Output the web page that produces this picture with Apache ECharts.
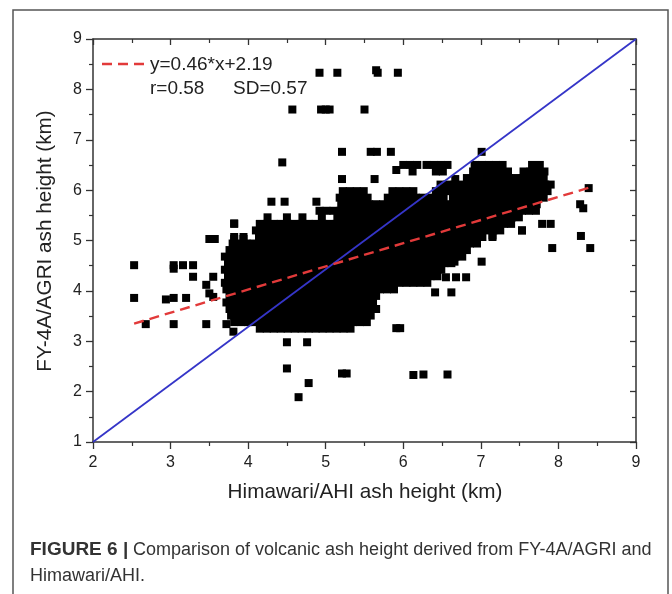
<!DOCTYPE html>
<html>
<head>
<meta charset="utf-8">
<script src="https://cdn.jsdelivr.net/npm/echarts@6/dist/echarts.min.js"></script>
<style>
html,body{margin:0;padding:0;background:#fff;}
#c{width:672px;height:594px;}
</style>
</head>
<body>
<div id="c"></div>
<script>
// ---------- data ----------
const xTicks = [2, 3, 4, 5, 6, 7, 8, 9];
const yTicks = [1, 2, 3, 4, 5, 6, 7, 8, 9];
const fitLine = [[2.53, 3.35], [8.40, 6.05]];      // y=0.46*x+2.19
const diagLine = [[2, 1], [9, 9]];
const fitLabel = 'y=0.46*x+2.19';
const statLabelR = 'r=0.58';
const statLabelSD = 'SD=0.57';

// dense part of the cloud, row by row (y value of row, x values in it)
const rowY = [6.50, 6.37, 6.24, 6.11, 5.98, 5.85, 5.72, 5.59, 5.46, 5.33, 5.20, 5.07, 4.94,
  4.81, 4.68, 4.55, 4.42, 4.29, 4.16, 4.03, 3.90, 3.77, 3.64, 3.51, 3.38, 3.25];
const rowX = [
  [6.00,6.09,6.18,6.30,6.39,6.48,6.57,6.92,7.01,7.10,7.19,7.28,7.66,7.76],
  [6.12,6.42,6.51,6.90,6.99,7.08,7.17,7.26,7.35,7.55,7.64,7.73,7.82],
  [6.82,6.91,7.00,7.09,7.18,7.27,7.36,7.45,7.54,7.63,7.72,7.81],
  [6.48,6.57,6.66,6.75,6.84,6.93,7.02,7.11,7.20,7.29,7.38,7.47,7.56,7.65,7.74,7.83,7.90],
  [5.22,5.31,5.40,5.49,5.86,5.95,6.04,6.13,6.42,6.51,6.60,6.69,6.78,6.87,6.96,7.05,7.14,7.23,7.32,7.41,7.50,7.59,7.68,7.77,7.86],
  [5.18,5.27,5.36,5.45,5.54,5.80,5.89,5.98,6.07,6.16,6.25,6.34,6.43,6.52,6.64,6.73,6.82,6.91,7.00,7.09,7.18,7.27,7.36,7.45,7.54,7.63,7.72,7.81],
  [5.20,5.29,5.38,5.47,5.56,5.65,5.74,5.83,5.92,6.01,6.10,6.19,6.28,6.37,6.46,6.55,6.64,6.73,6.82,6.91,7.00,7.09,7.18,7.27,7.36,7.45,7.54,7.63,7.72],
  [4.92,5.01,5.10,5.19,5.28,5.37,5.46,5.55,5.64,5.73,5.82,5.91,6.00,6.09,6.18,6.27,6.36,6.45,6.54,6.63,6.72,6.81,6.90,6.99,7.08,7.17,7.26,7.35,7.44,7.53,7.62,7.71],
  [4.25,4.50,4.70,4.95,5.15,5.24,5.33,5.42,5.51,5.60,5.69,5.78,5.87,5.96,6.05,6.14,6.23,6.32,6.41,6.50,6.59,6.68,6.77,6.86,6.95,7.04,7.13,7.22,7.31,7.40,7.49],
  [3.82,4.15,4.24,4.33,4.42,4.51,4.60,4.69,4.78,4.87,4.96,5.05,5.14,5.23,5.32,5.41,5.50,5.59,5.68,5.77,5.86,5.95,6.04,6.13,6.22,6.31,6.40,6.49,6.58,6.67,6.76,6.85,6.94,7.03,7.12,7.21,7.30,7.39,7.79,7.90],
  [4.10,4.19,4.28,4.37,4.46,4.55,4.64,4.73,4.82,4.91,5.00,5.09,5.18,5.27,5.36,5.45,5.54,5.63,5.72,5.81,5.90,5.99,6.08,6.17,6.26,6.35,6.44,6.53,6.62,6.71,6.80,6.89,6.98,7.07,7.16,7.25,7.53],
  [3.82,3.94,4.14,4.23,4.32,4.41,4.50,4.59,4.68,4.77,4.86,4.95,5.04,5.13,5.22,5.31,5.40,5.49,5.58,5.67,5.76,5.85,5.94,6.03,6.12,6.21,6.30,6.39,6.48,6.57,6.66,6.75,6.84,6.93,7.02,7.15],
  [3.80,3.89,3.98,4.07,4.16,4.25,4.34,4.43,4.52,4.61,4.70,4.79,4.88,4.97,5.06,5.15,5.24,5.33,5.42,5.51,5.60,5.69,5.78,5.87,5.96,6.05,6.14,6.23,6.32,6.41,6.50,6.59,6.68,6.77,6.86,6.95],
  [3.76,3.85,3.94,4.03,4.12,4.21,4.30,4.39,4.48,4.57,4.66,4.75,4.84,4.93,5.02,5.11,5.20,5.29,5.38,5.47,5.56,5.65,5.74,5.83,5.92,6.01,6.10,6.19,6.28,6.37,6.46,6.55,6.64,6.73,6.82],
  [3.70,3.79,3.88,3.97,4.06,4.15,4.24,4.33,4.42,4.51,4.60,4.69,4.78,4.87,4.96,5.05,5.14,5.23,5.32,5.41,5.50,5.59,5.68,5.77,5.86,5.95,6.04,6.13,6.22,6.31,6.40,6.49,6.58,6.67,6.76],
  [3.74,3.83,3.92,4.01,4.10,4.19,4.28,4.37,4.46,4.55,4.64,4.73,4.82,4.91,5.00,5.09,5.18,5.27,5.36,5.45,5.54,5.63,5.72,5.81,5.90,5.99,6.08,6.17,6.26,6.35,6.44,6.53,6.62],
  [3.70,3.79,3.88,3.97,4.06,4.15,4.24,4.33,4.42,4.51,4.60,4.69,4.78,4.87,4.96,5.05,5.14,5.23,5.32,5.41,5.50,5.59,5.68,5.77,5.86,5.95,6.04,6.13,6.22,6.31,6.40,6.49],
  [3.74,3.83,3.92,4.01,4.10,4.19,4.28,4.37,4.46,4.55,4.64,4.73,4.82,4.91,5.00,5.09,5.18,5.27,5.36,5.45,5.54,5.63,5.72,5.81,5.90,5.99,6.08,6.17,6.26,6.35,6.44],
  [3.70,3.79,3.88,3.97,4.06,4.15,4.24,4.33,4.42,4.51,4.60,4.69,4.78,4.87,4.96,5.05,5.14,5.23,5.32,5.41,5.50,5.59,5.68,5.77,5.86,5.95,6.04,6.13,6.22,6.31],
  [3.72,3.81,3.90,3.99,4.08,4.17,4.26,4.35,4.44,4.53,4.62,4.71,4.80,4.89,4.98,5.07,5.16,5.25,5.34,5.43,5.52,5.61,5.70,5.79,5.88],
  [3.76,3.85,3.94,4.03,4.12,4.21,4.30,4.39,4.48,4.57,4.66,4.75,4.84,4.93,5.02,5.11,5.20,5.29,5.38,5.47,5.56,5.65],
  [3.72,3.81,3.90,3.99,4.08,4.17,4.26,4.35,4.44,4.53,4.62,4.71,4.80,4.89,4.98,5.07,5.16,5.25,5.34,5.43,5.52,5.61],
  [3.76,3.85,3.94,4.03,4.12,4.21,4.30,4.39,4.48,4.57,4.66,4.75,4.84,4.93,5.02,5.11,5.20,5.29,5.38,5.47,5.56,5.65],
  [3.78,3.87,3.96,4.05,4.14,4.23,4.32,4.41,4.50,4.59,4.68,4.77,4.86,4.95,5.04,5.13,5.22,5.31,5.40,5.49,5.58],
  [3.82,3.91,4.00,4.09,4.18,4.27,4.36,4.45,4.54,4.63,4.72,4.81,4.90,4.99,5.08,5.17,5.26,5.35,5.44,5.53],
  [4.15,4.24,4.33,4.42,4.51,4.60,4.69,4.78,4.87,4.96,5.05,5.14,5.23,5.32]
];

// scattered points outside the dense cloud
const outliers = [
  [4.92,8.33],[5.15,8.33],[5.65,8.38],[5.67,8.33],[5.93,8.33],
  [4.57,7.60],[4.94,7.60],[5.00,7.60],[5.05,7.60],[5.50,7.60],
  [5.21,6.76],[5.58,6.76],[5.66,6.76],[5.84,6.76],[7.01,6.76],[4.44,6.55],
  [5.21,6.22],[5.63,6.22],[6.67,6.22],[5.91,6.40],
  [4.30,5.77],[4.47,5.77],[4.88,5.77],[3.82,5.34],
  [3.50,5.03],[3.57,5.03],[3.82,5.03],[3.94,5.03],[4.18,5.03],
  [2.53,4.51],[3.04,4.51],[3.04,4.44],[3.16,4.51],[3.29,4.51],[3.29,4.28],[3.55,4.28],
  [3.46,4.12],[3.50,3.95],[3.55,3.88],
  [2.53,3.86],[2.94,3.83],[3.04,3.86],[3.20,3.86],
  [2.68,3.34],[3.04,3.34],[3.46,3.34],[3.72,3.34],[3.81,3.19],
  [4.50,2.98],[4.76,2.98],[4.50,2.46],[5.21,2.36],[5.27,2.36],[4.78,2.17],[4.65,1.89],
  [6.13,2.33],[6.26,2.34],[6.57,2.34],
  [5.91,3.26],[5.96,3.26],[6.41,3.97],[6.62,3.97],
  [6.55,4.27],[6.68,4.27],[6.81,4.27],[6.66,4.58],[7.01,4.58],
  [6.95,5.09],[7.15,5.10],[7.53,5.20],
  [8.29,5.09],[7.92,4.85],[8.41,4.85],[8.28,5.72],[8.32,5.64],[8.39,6.04]
];

const captionBold = 'FIGURE 6 |';
const captionLine1 = 'Comparison of volcanic ash height derived from FY-4A/AGRI and';
const captionLine2 = 'Himawari/AHI.';
const xName = 'Himawari/AHI ash height (km)';
const yName = 'FY-4A/AGRI ash height (km)';

// ---------- chart ----------
const points = rowX.flatMap((xs, i) => xs.map(x => [x, rowY[i]])).concat(outliers);

const FONT = '"Liberation Sans", Arial, Helvetica, sans-serif';
const axisCol = '#333';

function baseAxis(extra) {
  return Object.assign({
    type: 'value',
    interval: 1,
    axisLine: { show: true, lineStyle: { color: axisCol, width: 1.5 } },
    axisTick: { show: true, length: 7, lineStyle: { color: axisCol, width: 1.3 } },
    minorTick: { show: true, splitNumber: 2, length: 4, lineStyle: { color: axisCol, width: 1.2 } },
    splitLine: { show: false },
    minorSplitLine: { show: false }
  }, extra);
}

const chart = echarts.init(document.getElementById('c'), null, { renderer: 'canvas' });
chart.setOption({
  animation: false,
  backgroundColor: '#fff',
  grid: { left: 93, right: 36, top: 39, bottom: 152, containLabel: false },
  xAxis: [
    baseAxis({ min: xTicks[0], max: xTicks[xTicks.length - 1], position: 'bottom',
      axisLabel: { show: true, margin: 13, fontSize: 16, color: '#222', fontFamily: FONT } }),
    baseAxis({ min: xTicks[0], max: xTicks[xTicks.length - 1], position: 'top',
      axisLabel: { show: false },
      axisTick: { show: true, inside: true, length: 6, lineStyle: { color: axisCol, width: 1.3 } } })
  ],
  yAxis: [
    baseAxis({ min: yTicks[0], max: yTicks[yTicks.length - 1], position: 'left',
      axisLabel: { show: true, margin: 11, fontSize: 16, color: '#222', fontFamily: FONT } }),
    baseAxis({ min: yTicks[0], max: yTicks[yTicks.length - 1], position: 'right',
      axisLabel: { show: false },
      axisTick: { show: true, inside: true, length: 6, lineStyle: { color: axisCol, width: 1.3 } } })
  ],
  series: [
    {
      type: 'scatter',
      data: points,
      symbol: 'rect',
      symbolSize: 8,
      itemStyle: { color: '#000', opacity: 1 },
      emphasis: { disabled: true },
      z: 2,
      silent: true
    },
    {
      type: 'line',
      data: diagLine,
      symbol: 'none',
      lineStyle: { color: '#3535c8', width: 1.8 },
      z: 3,
      silent: true
    },
    {
      type: 'line',
      data: fitLine,
      symbol: 'none',
      lineStyle: { color: '#e23a3a', width: 2.4, type: [10, 6] },
      z: 4,
      silent: true
    }
  ],
  graphic: [
    { type: 'rect', shape: { x: 13, y: 10, width: 655, height: 600 },
      style: { fill: 'none', stroke: '#555', lineWidth: 1.5 }, silent: true },
    { type: 'line', shape: { x1: 102, y1: 64, x2: 148, y2: 64 },
      style: { stroke: '#e23a3a', lineWidth: 2.4, lineDash: [10, 6] }, silent: true },
    { type: 'text', x: 150, y: 65, silent: true,
      style: { text: fitLabel, font: '19px ' + FONT, fill: '#222', align: 'left', verticalAlign: 'middle' } },
    { type: 'text', x: 150, y: 89, silent: true,
      style: { text: statLabelR, font: '19px ' + FONT, fill: '#222', align: 'left', verticalAlign: 'middle' } },
    { type: 'text', x: 233, y: 89, silent: true,
      style: { text: statLabelSD, font: '19px ' + FONT, fill: '#222', align: 'left', verticalAlign: 'middle' } },
    { type: 'text', x: 365, y: 492, silent: true,
      style: { text: xName, font: '20.7px ' + FONT, fill: '#222', align: 'center', verticalAlign: 'middle' } },
    { type: 'text', x: 45, y: 241, rotation: Math.PI / 2, silent: true,
      style: { text: yName, font: '20.7px ' + FONT, fill: '#222', align: 'center', verticalAlign: 'middle' } },
    { type: 'text', x: 30, y: 550, silent: true,
      style: { text: captionBold, font: 'bold 19px ' + FONT, fill: '#333', align: 'left', verticalAlign: 'middle' } },
    { type: 'text', x: 133, y: 550, silent: true,
      style: { text: captionLine1, font: '18px ' + FONT, fill: '#333', align: 'left', verticalAlign: 'middle' } },
    { type: 'text', x: 30, y: 576, silent: true,
      style: { text: captionLine2, font: '18px ' + FONT, fill: '#333', align: 'left', verticalAlign: 'middle' } }
  ]
});
</script>
</body>
</html>
